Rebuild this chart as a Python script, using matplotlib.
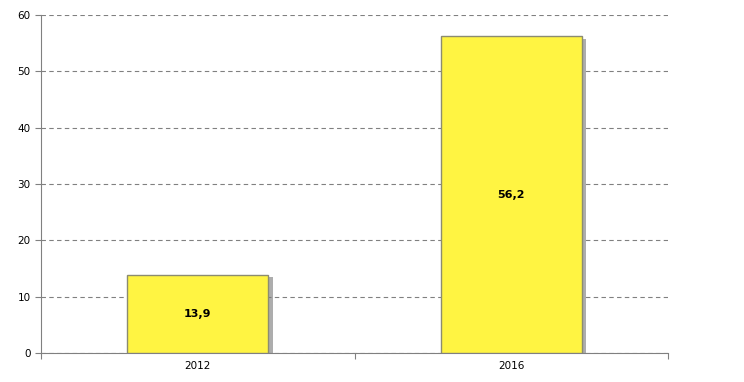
import numpy as np
import matplotlib.pyplot as plt
import matplotlib.patheffects as pe

years = ['2012', '2016']
values = [13.9, 56.2]
value_labels = ['13,9', '56,2']

plt.rcParams['font.family'] = ['DejaVu Sans']
fig = plt.figure(figsize=(7.44, 3.82), dpi=100)
ax = fig.add_axes([0.0551, 0.0759, 0.843, 0.885])

x = np.arange(len(years))
bars = ax.bar(x, values, width=0.45, color='#fff442', edgecolor='#8c8c70', linewidth=1.0,
              zorder=3,
              path_effects=[pe.SimplePatchShadow(offset=(3, -2), shadow_rgbFace='#777777', alpha=0.6),
                            pe.Normal()])

for xi, v, lab in zip(x, values, value_labels):
    ax.text(xi, v / 2, lab, ha='center', va='center', fontsize=8, fontweight='bold', zorder=4)

ax.set_xlim(-0.5, len(years) - 0.5)
ax.set_ylim(0, 60)
ax.set_yticks(np.arange(0, 61, 10))
ax.yaxis.grid(True, linestyle=(0, (4, 3)), color='#808080', linewidth=0.8, zorder=0)

# category ticks sit between bars
ax.set_xticks(np.arange(-0.5, len(years), 1.0))
ax.set_xticklabels([])
ax.set_xticks(x, minor=True)
ax.set_xticklabels(years, minor=True)
ax.tick_params(axis='x', which='minor', length=0, labelsize=7.5, pad=6)
ax.tick_params(axis='x', which='major', length=4, color='#808080')
ax.tick_params(axis='y', length=4, color='#808080', labelsize=7.5)

for s in ['top', 'right']:
    ax.spines[s].set_visible(False)
for s in ['left', 'bottom']:
    ax.spines[s].set_color('#808080')

fig.savefig('out.png', dpi=100)
